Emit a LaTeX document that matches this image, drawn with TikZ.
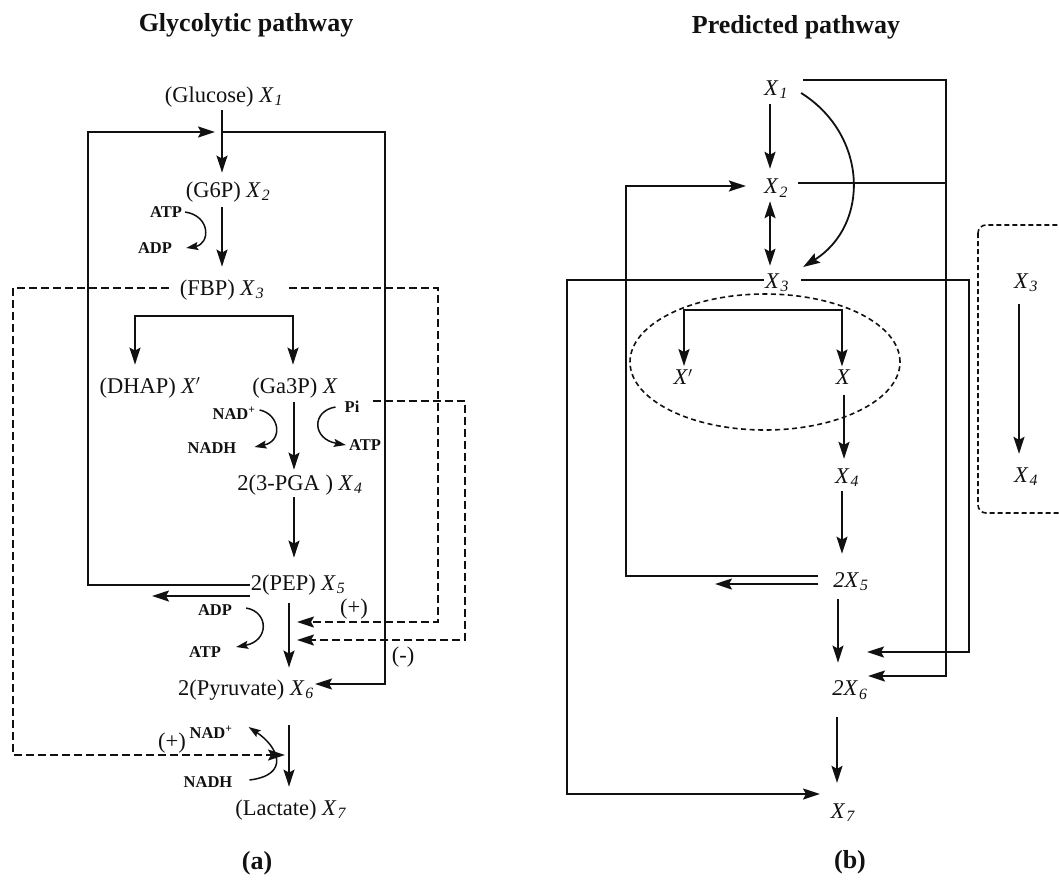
\documentclass[tikz,border=0pt]{standalone}
\usepackage{fontspec}
\setmainfont{Liberation Serif}
\usetikzlibrary{positioning,arrows.meta,calc}
\definecolor{inkMain}{HTML}{111111}
\definecolor{paper}{HTML}{FFFFFF}
\newcommand{\mx}[1]{\textit{X}\kern1pt\textsubscript{\textit{#1}}}
\newcommand{\mxp}{\textit{X}$'$}
\tikzset{
  rail/.style ={draw=inkMain,line width=1.8pt},
  flow/.style ={rail,->},
  ctrl/.style ={draw=inkMain,line width=1.7pt,dashed,
                dash pattern=on 8pt off 4pt,->},
  ring/.style ={draw=inkMain,line width=1.6pt,dashed,
                dash pattern=on 5pt off 3.5pt},
  boxline/.style={draw=inkMain,line width=1.6pt,dashed,
                dash pattern=on 5pt off 3pt,rounded corners=8pt},
  cofac/.style={draw=inkMain,line width=1.5pt,
                -{Stealth[length=12pt,width=8pt,inset=2pt]}},
}

\begin{document}
\begin{tikzpicture}[x=1pt,y=-1pt,
          >={Stealth[length=17pt,width=11pt,inset=3pt]},
          every node/.style={font=\fontsize{22.5}{26}\selectfont,
                             text=inkMain,inner sep=1pt},
          cof/.style={font=\fontsize{16.5}{18}\selectfont\bfseries},
          head/.style={font=\fontsize{26}{30}\selectfont\bfseries},
        ]
        \clip (0,0) rectangle (1059,880);
        \fill[paper] (0,0) rectangle (1059,880);
        \node[head] (ta) at (246,25) {Glycolytic pathway};
        \node[head] (tb) at (796,27) {Predicted pathway};
        \node[head] (la) at (257,863) {(a)};
        \node[head] (lb) at (850,862) {(b)};

        % (a) glycolysis
        \node (g1) at (224,97)  {(Glucose) \mx{1}};
        \node (g2) at (228,192) {(G6P) \mx{2}};
        \node (g3) at (222,290) {(FBP) \mx{3}};
        \node (gd) at (150,388) {(DHAP) \mxp};
        \node (gx) at (295,388) {(Ga3P) \textit{X}};
        \node (g4) at (300,485) {2(3-PGA ) \mx{4}};
        \node (g5) at (298,585) {2(PEP) \mx{5}};
        \node (g6) at (246,690) {2(Pyruvate) \mx{6}};
        \node (g7) at (291,810) {(Lactate) \mx{7}};
        \coordinate (colA) at (222,0);
        \coordinate (colB) at (294,0);
        \coordinate (colC) at (289,0);

        \draw[flow,shorten <=2pt,shorten >=8pt] (g1.south -| colA) -- (g2.north -| colA);
        \draw[flow,shorten <=4pt,shorten >=12pt] (g2.south -| colA) -- (g3.north -| colA);
        \coordinate (brL) at (135,316);
        \coordinate (brR) at (293,316);
        \draw[flow,<->,shorten <=12pt,shorten >=12pt]
              (gd.north -| brL) |- (brR) -- (gx.north -| brR);
        \draw[flow,shorten <=3pt,shorten >=4pt] (gx.south -| colB) -- (g4.north -| colB);
        \draw[flow,shorten <=1pt,shorten >=16pt] (g4.south -| colB) -- (g5.north -| colB);
        \draw[flow,shorten <=7pt,shorten >=11pt] (g5.south -| colC) -- (g6.north -| colC);
        \draw[flow,shorten <=24pt,shorten >=12pt] (g6.south -| colC) -- (g7.north -| colC);

        % feedback rails
        \coordinate (fbL) at (88,132);
        \coordinate (fbR) at (385,132);
        \draw[flow,shorten >=7pt] (g5.west) -| (fbL) -- (fbL -| colA);
        \draw[flow] (fbL -| colA) -- (fbR) |- ([yshift=6pt]g6.east);
        \coordinate (pepOut) at (152,596);
        \draw[flow] (g5.west |- pepOut) -- (pepOut);

        % cofactors
        \node[cof] (atpA) at (166,212) {ATP};
        \node[cof] (adpA) at (155,248) {ADP};
        \draw[cofac] ([xshift=2pt]atpA.east) .. controls +(26,4) and +(24,-4)
              .. ([xshift=13pt]adpA.east);
        \node[cof] (nadA) at (234,413) {NAD\textsuperscript{+}};
        \node[cof] (nadhA) at (212,448) {NADH};
        \draw[cofac] ([xshift=3pt,yshift=3pt]nadA.east) .. controls +(20,4) and +(29,-6)
              .. ([xshift=17pt,yshift=1pt]nadhA.east);
        \node[cof] (piA) at (352,407) {Pi};
        \node[cof] (atpB) at (365,445) {ATP};
        \draw[cofac] ([xshift=-8pt]piA.west) .. controls +(-24,4) and +(-34,-6)
              .. ([xshift=-2pt]atpB.west);
        \node[cof] (adpB) at (215,610) {ADP};
        \node[cof] (atpC) at (205,652) {ATP};
        \draw[cofac] ([xshift=13pt,yshift=2pt]adpB.east) .. controls +(23,4) and +(33,-6)
              .. ([xshift=14pt,yshift=5pt]atpC.east);
        \node[cof] (nadB) at (211,732) {NAD\textsuperscript{+}};
        \node[cof] (nadhB) at (208,782) {NADH};
        \draw[cofac] ([xshift=16pt,yshift=2pt]nadhB.east) .. controls +(41,-5) and +(30,20)
              .. ([xshift=15pt,yshift=5pt]nadB.east);

        % regulation (dashed)
        \coordinate (dL) at (13,288);
        \coordinate (dR) at (438,288);
        \coordinate (dP) at (465,401);
        \coordinate (lacStep) at (288,755);
        \coordinate (pyrStepA) at (290,622);
        \coordinate (pyrStepB) at (290,640);
        \draw[ctrl,shorten <=10pt,shorten >=3pt] ([yshift=2pt]g3.west) -- (dL) |- (lacStep);
        \draw[ctrl,shorten <=24pt,shorten >=7pt] ([yshift=2pt]g3.east) -- (dR) |- (pyrStepA);
        \draw[ctrl,shorten <=12pt,shorten >=7pt] ([yshift=6pt]piA.east) -- (dP) |- (pyrStepB);
        \node (plusA) at (354,609) {(+)};
        \node (minusA) at (403,657) {(-)};
        \node (plusB) at (172,743) {(+)};

        % (b) predicted pathway
        \node (p1) at (776,90)  {\mx{1}};
        \node (p2) at (776,188) {\mx{2}};
        \node (p3) at (777,283) {\mx{3}};
        \node (pd) at (683,377) {\mxp};
        \node (px) at (843,377) {\textit{X}};
        \node (p4) at (847,478) {\mx{4}};
        \node (p5) at (851,582) {\textit{2}\mx{5}};
        \node (p6) at (850,690) {\textit{2}\mx{6}};
        \node (p7) at (843,813) {\mx{7}};
        \coordinate (colP) at (770,0);
        \coordinate (colX) at (844,0);

        \draw[flow,shorten <=4pt,shorten >=9pt] (p1.south -| colP) -- (p2.north -| colP);
        \draw[flow,<->,shorten <=3pt,shorten >=7pt] (p2.south -| colP) -- (p3.north -| colP);
        \draw[flow] ([xshift=12pt,yshift=-3pt]p1.east) .. controls (868,135) and (870,225)
              .. ([xshift=13pt,yshift=16pt]p3.east);
        \draw[ring] (765,362) ellipse [x radius=135pt,y radius=68pt];
        \coordinate (bL) at (684,310);
        \coordinate (bR) at (842,310);
        \draw[flow,<->,shorten <=2pt,shorten >=2pt]
              (pd.north -| bL) |- (bR) -- (px.north -| bR);
        \draw[flow,shorten <=9pt,shorten >=9pt] (px.south -| colX) -- (p4.north -| colX);
        \draw[flow,shorten <=3pt,shorten >=18pt] ([xshift=-5pt]p4.south) -- ([xshift=-5pt]p4.south |- p5.north);
        \draw[flow,shorten <=7pt,shorten >=17pt] ([xshift=-13pt]p5.south) -- ([xshift=-13pt]p5.south |- p6.north);
        \draw[flow,shorten <=17pt,shorten >=20pt] ([xshift=-13pt]p6.south) -- ([xshift=-13pt]p6.south |- p7.north);

        \coordinate (r1) at (946,80);
        \coordinate (r1b) at (946,183);
        \coordinate (inA) at (868,676);
        \draw[flow,shorten <=14pt] ([yshift=10pt]p1.east) -- (r1) |- (inA);
        \draw[rail,shorten <=9pt] ([yshift=5pt]p2.east) -- (r1b);
        \coordinate (r2) at (969,280);
        \coordinate (inB) at (867,652);
        \draw[flow,shorten <=11pt] ([yshift=3pt]p3.east) -- (r2) |- (inB);
        \coordinate (r3) at (567,280);
        \coordinate (inC) at (820,794);
        \draw[flow] ([yshift=3pt]p3.west) -- (r3) |- (inC);
        \coordinate (c4a) at (626,576);
        \coordinate (c4b) at (626,186);
        \draw[flow,shorten <=14pt,shorten >=17pt]
              ([yshift=6pt]p5.west) -- (c4a) -- (c4b) -- (p2.west |- c4b);
        \coordinate (out5) at (715,584);
        \draw[flow,shorten <=14pt] ([yshift=-2pt]p5.west) -- (out5);

        % side box
        \draw[boxline] (978,225) rectangle (1095,513);
        \node (q3) at (1026,283) {\mx{3}};
        \node (q4) at (1026,477) {\mx{4}};
        \coordinate (colQ) at (1019,0);
        \draw[flow,shorten <=11pt,shorten >=13pt] (q3.south -| colQ) -- (q4.north -| colQ);
      \end{tikzpicture}
\end{document}
